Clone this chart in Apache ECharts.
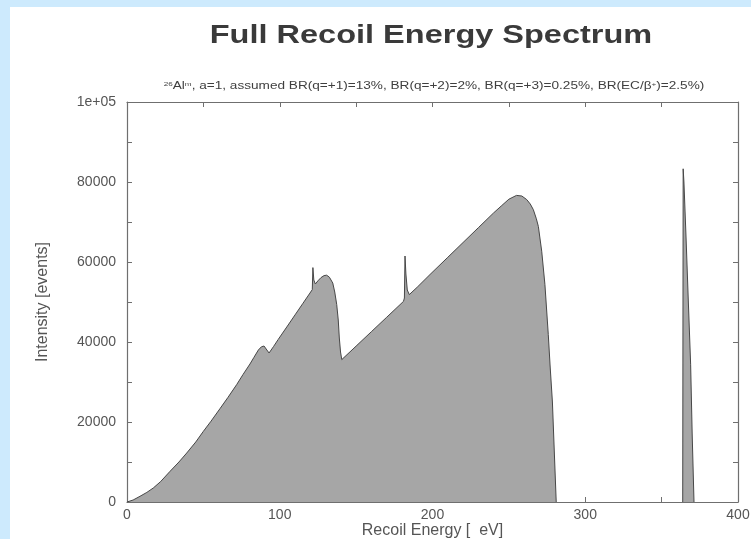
<!DOCTYPE html>
<html>
<head>
<meta charset="utf-8">
<script src="https://cdn.jsdelivr.net/npm/echarts@6/dist/echarts.min.js"></script>
<style>
html,body{margin:0;padding:0;background:#cdeafd;}
#chart{width:751px;height:539px;}
</style>
</head>
<body>
<div id="chart"></div>
<script>
// Main spectrum (q=+1,+2,+3 recoil contributions)
const energyMain = [0, 4, 8.5, 13, 17.2, 22, 28.2, 34, 39.1, 45, 50, 55, 60.9, 66, 71.8, 76, 80.5, 83, 86, 88, 89.7, 91, 93, 96, 99, 105, 110, 115, 119.8, 121.3, 121.7, 122.3, 123.3, 125, 127, 129, 130.7, 132.5, 134.7, 136, 137.3, 138.3, 139, 139.8, 140.6, 150, 160, 170, 181, 181.6, 182, 182.6, 183.5, 184.8, 190, 198.4, 210, 220, 230, 240, 245, 250, 255, 258.5, 261.7, 264, 266, 268, 269.3, 271.5, 273.6, 275.8, 277, 278.5, 280, 281];
const intensityMain = [0, 500, 1425, 2400, 3500, 5100, 7675, 10000, 12250, 15000, 17675, 20200, 23350, 26100, 29350, 31900, 34500, 36100, 38000, 38800, 39000, 38500, 37250, 38900, 40650, 43970, 46770, 49570, 52250, 53100, 58600, 55500, 54500, 55300, 56100, 56600, 56700, 56200, 54750, 52500, 49350, 45500, 41000, 37500, 35600, 38980, 42580, 46180, 50150, 51000, 61500, 57000, 53000, 51850, 53700, 56880, 61170, 64870, 68570, 72270, 74000, 75700, 76650, 76500, 75600, 74500, 73100, 70800, 68900, 62700, 54350, 41850, 34000, 25000, 10000, 0];
// EC/beta+ recoil line
const energyPeak = [363.8, 364.1, 364.6, 366, 367.5, 369, 370, 371.2];
const intensityPeak = [0, 83300, 80000, 66000, 50000, 34300, 17000, 0];
// Axis ticks
const xTicks = [0, 100, 200, 300, 400];
const yTicks = [0, 20000, 40000, 60000, 80000, 100000];
const yTickLabels = ['0', '20000', '40000', '60000', '80000', '1e+05'];

const zip = (a, b) => a.map((v, i) => [v, b[i]]);
const FONT = '"Liberation Sans", Arial, sans-serif';
const axisCol = '#6f6f6f';
const txtCol = '#555555';

const chart = echarts.init(document.getElementById('chart'), null, {renderer: 'canvas'});
const baseAxis = {
  axisLine: {show: true, onZero: false, lineStyle: {color: axisCol, width: 1.2}},
  axisTick: {show: true, inside: true, length: 5, lineStyle: {color: axisCol, width: 1}},
  minorTick: {show: true, splitNumber: 2, length: 5, lineStyle: {color: axisCol, width: 1}},
  splitLine: {show: false},
  minorSplitLine: {show: false}
};
chart.setOption({
  animation: false,
  backgroundColor: '#cdeafd',
  graphic: {elements: [
    {type: 'rect', z: -100, silent: true, shape: {x: 10, y: 7, width: 741, height: 532}, style: {fill: '#ffffff'}},
    {type: 'text', x: 431, y: 36, scaleX: 1.3, style: {text: 'Full Recoil Energy Spectrum', font: 'bold 25px ' + FONT, fill: '#3a3a3a', align: 'center', verticalAlign: 'middle'}},
    {type: 'text', x: 434, y: 86, scaleX: 1.36, style: {
      text: '{s|26}Al{s|m}, a=1, assumed BR(q=+1)=13%, BR(q=+2)=2%, BR(q=+3)=0.25%, BR(EC/β{s|+})=2.5%)',
      fontFamily: FONT, fontSize: 10, fill: '#3f3f3f', align: 'center', verticalAlign: 'middle',
      rich: {s: {fontSize: 6, fontFamily: FONT, fill: '#3f3f3f', verticalAlign: 'top'}}
    }}
  ]},
  grid: {left: 127, right: 13, top: 102, bottom: 37, containLabel: false, outerBoundsMode: 'none'},
  xAxis: [
    Object.assign({}, baseAxis, {
      type: 'value', position: 'bottom', min: xTicks[0], max: xTicks[xTicks.length - 1], interval: 100,
      axisLabel: {show: true, margin: 6, color: txtCol, fontFamily: FONT, fontSize: 14},
      name: 'Recoil Energy [  eV]', nameLocation: 'middle', nameGap: 21, nameMoveOverlap: false,
      nameTextStyle: {color: txtCol, fontFamily: FONT, fontSize: 16}
    }),
    Object.assign({}, baseAxis, {
      type: 'value', position: 'top', min: xTicks[0], max: xTicks[xTicks.length - 1], interval: 100,
      axisLabel: {show: false}
    })
  ],
  yAxis: [
    Object.assign({}, baseAxis, {
      type: 'value', position: 'left', min: yTicks[0], max: yTicks[yTicks.length - 1], interval: 20000,
      axisLabel: {show: true, margin: 11, color: txtCol, fontFamily: FONT, fontSize: 14,
        formatter: v => yTickLabels[yTicks.indexOf(v)]},
      name: 'Intensity [events]', nameLocation: 'middle', nameGap: 76, nameMoveOverlap: false,
      nameTextStyle: {color: txtCol, fontFamily: FONT, fontSize: 16}
    }),
    Object.assign({}, baseAxis, {
      type: 'value', position: 'right', min: yTicks[0], max: yTicks[yTicks.length - 1], interval: 20000,
      axisLabel: {show: false}
    })
  ],
  series: [
    {type: 'line', xAxisIndex: 0, yAxisIndex: 0, data: zip(energyMain, intensityMain), symbol: 'none',
      lineStyle: {color: '#474747', width: 1}, areaStyle: {color: '#a6a6a6', opacity: 1}},
    {type: 'line', xAxisIndex: 0, yAxisIndex: 0, data: zip(energyPeak, intensityPeak), symbol: 'none',
      lineStyle: {color: '#474747', width: 1}, areaStyle: {color: '#a6a6a6', opacity: 1}}
  ]
});
</script>
</body>
</html>
